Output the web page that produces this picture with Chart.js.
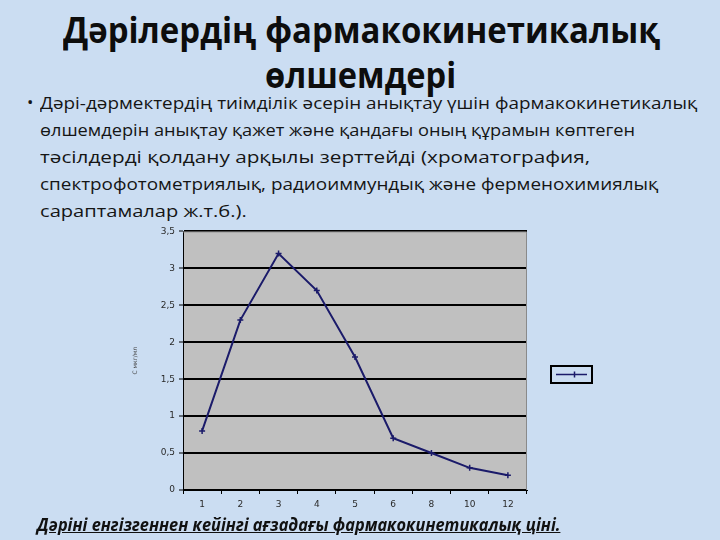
<!DOCTYPE html>
<html>
<head>
<meta charset="utf-8">
<script src="https://cdn.jsdelivr.net/npm/chart.js@4"></script>
<style>
  html, body { margin: 0; padding: 0; }
  body {
    width: 720px; height: 540px; overflow: hidden; position: relative;
    background: #cbddf2;
    font-family: "Open Sans", "Noto Sans", sans-serif;
    color: #111;
  }
  .line { position: absolute; white-space: nowrap; transform-origin: 0 0; }
  .title { font-weight: bold; font-size: 35px; line-height: 40px; color: #0d0d0d; }
  .body { font-size: 17px; line-height: 22px; color: #151515; }
  .cap { font-size: 17px; line-height: 20px; font-weight: bold; font-style: italic; text-decoration: underline; color: #111; }
  #wrap { position: absolute; left: 130px; top: 222px; width: 480px; height: 300px; }
</style>
</head>
<body>
<div class="line title" data-x="63" data-w="597" style="top:10px">Дәрілердің фармакокинетикалық</div>
<div class="line title" data-x="265" data-w="191" style="top:55px">өлшемдері</div>
<div class="line body" style="left:27px;top:91px">•</div>
<div class="line body" data-x="40" data-w="657" style="top:92px">Дәрі-дәрмектердің тиімділік әсерін анықтау үшін фармакокинетикалық</div>
<div class="line body" data-x="40" data-w="595" style="top:119px">өлшемдерін анықтау қажет және қандағы оның құрамын көптеген</div>
<div class="line body" data-x="40" data-w="550" style="top:146px">тәсілдерді қолдану арқылы зерттейді (хроматография,</div>
<div class="line body" data-x="40" data-w="618" style="top:173px">спектрофотометриялық, радиоиммундық және ферменохимиялық</div>
<div class="line body" data-x="40" data-w="207" style="top:200px">сараптамалар ж.т.б.).</div>
<div id="wrap"><canvas id="chart"></canvas></div>
<div class="line cap" data-x="37" data-w="523" style="top:515px">Дәріні енгізгеннен кейінгі ағзадағы фармакокинетикалық цiнi.</div>

<script>
// data
const hours = ['1', '2', '3', '4', '5', '6', '8', '10', '12'];
const conc = [0.8, 2.3, 3.2, 2.7, 1.8, 0.7, 0.5, 0.3, 0.2];
const yTitle = 'С мкг/мл';

// squeeze each text line to the width it has in the picture
document.querySelectorAll('.line[data-w]').forEach(function(el) {
  el.style.left = el.dataset.x + 'px';
  let s = Number(el.dataset.w) / el.offsetWidth;
  el.style.transform = 'scaleX(' + s + ')';
});

const navy = '#1b1b6a';

// gray plot background plus frame
const plotBg = {
  id: 'plotBg',
  beforeDraw(chart) {
    const a = chart.chartArea, c = chart.ctx;
    c.save();
    c.fillStyle = '#c0c0c0';
    c.fillRect(a.left, a.top, a.right - a.left, a.bottom - a.top);
    c.restore();
  },
  afterDatasetsDraw(chart) {
    const a = chart.chartArea, c = chart.ctx;
    c.save();
    c.strokeStyle = '#8a8a8a';
    c.lineWidth = 1;
    c.beginPath();
    c.moveTo(a.left, a.top + 0.5);
    c.lineTo(a.right - 0.5, a.top + 0.5);
    c.lineTo(a.right - 0.5, a.bottom);
    c.stroke();
    c.restore();
  }
};

// little framed legend sample with no text, like the original
const legendBox = {
  id: 'legendBox',
  afterDraw(chart) {
    const c = chart.ctx;
    const x = 421, y = 144, w = 41, h = 17;
    c.save();
    c.strokeStyle = '#000';
    c.lineWidth = 2;
    c.strokeRect(x, y, w, h);
    c.strokeStyle = navy;
    c.lineWidth = 1.5;
    c.beginPath();
    c.moveTo(x + 5, y + h / 2);
    c.lineTo(x + w - 5, y + h / 2);
    c.moveTo(x + w / 2 + 3, y + h / 2 - 3);
    c.lineTo(x + w / 2 + 3, y + h / 2 + 3);
    c.stroke();
    c.restore();
  }
};

new Chart(document.getElementById('chart'), {
  type: 'line',
  data: {
    labels: hours,
    datasets: [{
      label: yTitle,
      data: conc,
      borderColor: navy,
      borderWidth: 2,
      pointStyle: 'cross',
      pointRadius: 3,
      pointBorderColor: navy,
      pointBorderWidth: 1.5,
      tension: 0
    }]
  },
  options: {
    responsive: true,
    maintainAspectRatio: false,
    animation: false,
    layout: { padding: { left: 0, top: 9, right: 83, bottom: 0 } },
    plugins: {
      legend: { display: false },
      tooltip: { enabled: false }
    },
    scales: {
      x: {
        offset: true,
        grid: { display: true, drawOnChartArea: false, color: '#000', tickLength: 4, offset: true },
        border: { color: '#000', width: 1 },
        ticks: { color: '#2a2a2a', font: { family: 'DejaVu Sans', size: 9 }, padding: 5, maxRotation: 0 },
        afterFit(s) { s.height = 32; }
      },
      y: {
        min: 0,
        max: 3.5,
        ticks: {
          stepSize: 0.5,
          color: '#2a2a2a',
          font: { family: 'DejaVu Sans', size: 9 },
          padding: 4,
          callback: v => String(v).replace('.', ',')
        },
        grid: { color: '#000', lineWidth: 2, tickLength: 4, tickColor: '#000', tickWidth: 1 },
        border: { color: '#000', width: 1 },
        title: { display: true, text: yTitle, color: '#444', font: { family: 'DejaVu Sans', size: 6 }, padding: 2 },
        afterFit(s) { s.width = 53; }
      }
    }
  },
  plugins: [plotBg, legendBox]
});
</script>
</body>
</html>
